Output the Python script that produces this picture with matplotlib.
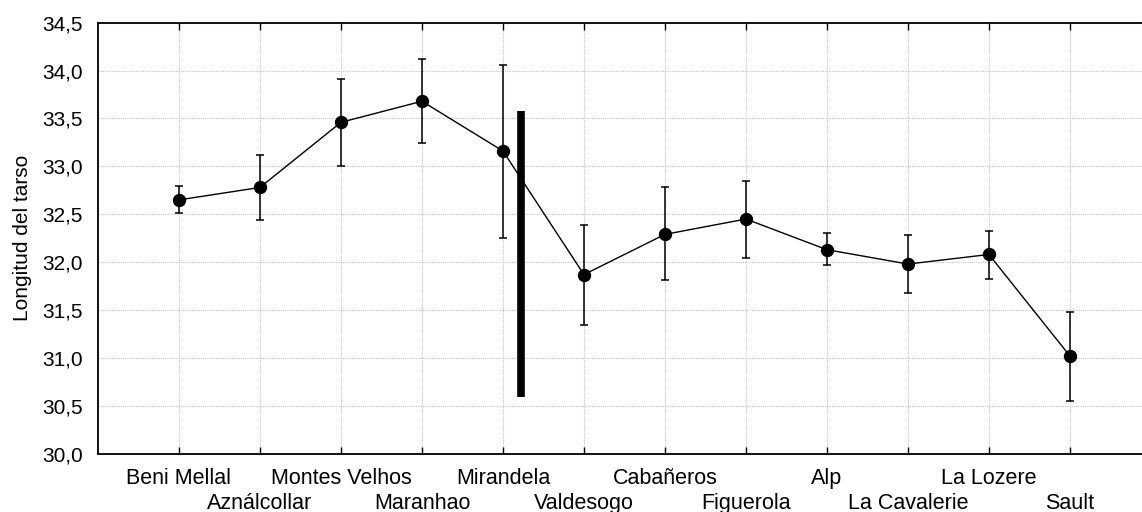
import matplotlib
matplotlib.use("Agg")
import matplotlib.pyplot as plt
import numpy as np

sites = ["Beni Mellal", "Aználcollar", "Montes Velhos", "Maranhao", "Mirandela",
         "Valdesogo", "Cabañeros", "Figuerola", "Alp", "La Cavalerie", "La Lozere", "Sault"]
means = [32.65, 32.78, 33.46, 33.68, 33.16, 31.87, 32.29, 32.45, 32.13, 31.98, 32.08, 31.02]
upper = [32.80, 33.12, 33.91, 34.12, 34.06, 32.39, 32.78, 32.85, 32.30, 32.28, 32.33, 31.48]
lower = [32.51, 32.44, 33.00, 33.24, 32.25, 31.34, 31.81, 32.04, 31.97, 31.68, 31.82, 30.55]
divider_x = 4.22
divider_range = [30.59, 33.58]
yticks = [30.0, 30.5, 31.0, 31.5, 32.0, 32.5, 33.0, 33.5, 34.0, 34.5]
ylabel = "Longitud del tarso"

plt.rcParams['font.family'] = ['Liberation Sans', 'DejaVu Sans']

fig = plt.figure(figsize=(11.42, 5.12), dpi=100)
ax = fig.add_axes([98/1142, 1 - 453.7/512, 1 - 98/1142, (453.7 - 22.7)/512])

x = np.arange(len(sites))
means_a = np.array(means)
yerr = np.vstack([means_a - np.array(lower), np.array(upper) - means_a])

ax.errorbar(x, means_a, yerr=yerr, fmt='o-', color='black', ms=8.6, lw=1.0,
            elinewidth=1.1, capsize=3.0, capthick=1.1, zorder=3)
ax.plot([divider_x, divider_x], divider_range, color='black', lw=5.5,
        solid_capstyle='butt', zorder=4)

ax.set_xlim(-1, 11.89)
ax.set_ylim(30.0, 34.5)
ax.set_yticks(yticks)
ax.set_yticklabels([f"{v:.1f}".replace('.', ',') for v in yticks], fontsize=15)
ax.set_xticks(x)
ax.set_xticklabels(sites, fontsize=15.5)

ax.grid(True, color='#c4c4c4', linestyle=(0, (1, 1)), linewidth=0.8)
ax.set_axisbelow(True)

ax.tick_params(axis='x', direction='in', length=5, width=1.0, top=True, bottom=True)
ax.tick_params(axis='y', length=0, pad=11)
for i, t in enumerate(ax.xaxis.get_major_ticks()):
    t.set_pad(10.5 if i % 2 == 0 else 28)

for s in ['left', 'bottom', 'top']:
    ax.spines[s].set_linewidth(1.3)
ax.spines['right'].set_visible(False)

ax.set_ylabel(ylabel, fontsize=15)
ax.yaxis.set_label_coords(-0.063, 0.5)

fig.savefig("out.png", dpi=100)
